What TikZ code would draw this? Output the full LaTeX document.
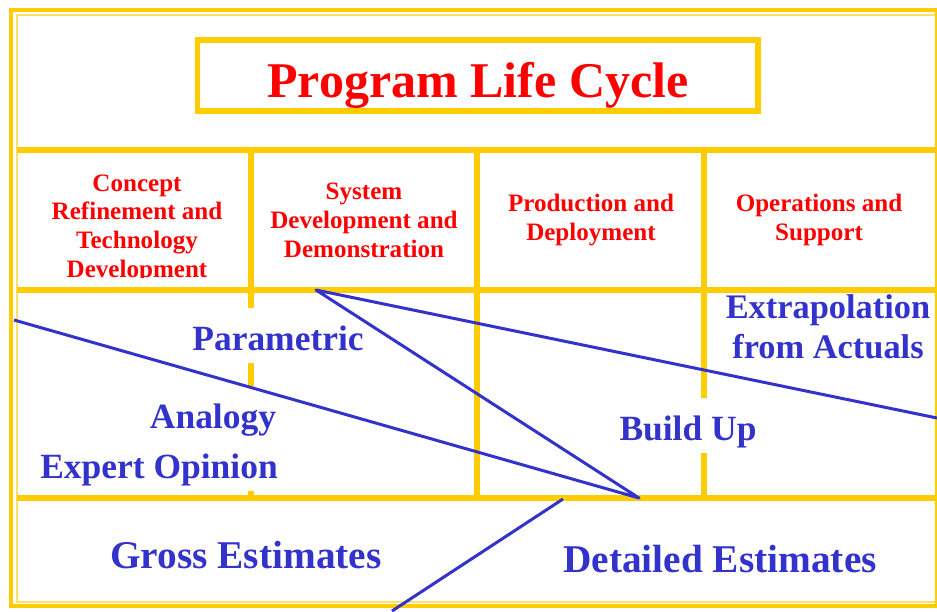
\documentclass[tikz,border=0pt]{standalone}
\usepackage{fontspec}
\setmainfont{Liberation Serif}

\tikzset{every picture/.style={line width=0.75pt}}
\tikzset{
  frame/.style={color={rgb, 255:red, 255; green, 204; blue, 0 }, line width=3pt},
  gridline/.style={color={rgb, 255:red, 255; green, 204; blue, 0 }, line width=4.5pt},
  titlebox/.style={color={rgb, 255:red, 255; green, 204; blue, 0 }, line width=4.2pt},
  title/.style={color={rgb, 255:red, 255; green, 0; blue, 0 }, font=\bfseries\fontsize{37.5}{42}\selectfont, inner sep=0.75pt},
  phase/.style={color={rgb, 255:red, 255; green, 0; blue, 0 }, font=\bfseries\fontsize{18.8}{21.4}\selectfont, align=center, inner sep=0.75pt},
  estimate/.style={color={rgb, 255:red, 51; green, 51; blue, 204 }, font=\bfseries\fontsize{26.6}{29.3}\selectfont, fill=white, text height=24pt, text depth=2.25pt, inner xsep=1.5pt, inner ysep=7.5pt},
  total/.style={color={rgb, 255:red, 51; green, 51; blue, 204 }, font=\bfseries\fontsize{29.5}{33}\selectfont, inner sep=0.75pt},
  trend/.style={color={rgb, 255:red, 51; green, 51; blue, 204 }, line width=2.25pt, line join=round}
}

\begin{document}
\begin{tikzpicture}[x=0.75pt,y=0.75pt,yscale=-1,xscale=1]
\useasboundingbox (0,0) rectangle (937,611);

%Shape: Rectangle [id:frame]
\draw [frame] (11,10) rectangle (937,606);
\draw [frame, line width=1.1pt, opacity=0.6] (17,15) rectangle (937,602);

%Straight Lines [id:rows]
\draw [gridline] (17,150) -- (937,150);
\draw [gridline] (17,290) -- (937,290);
\draw [gridline] (17,498) -- (937,498);
%Straight Lines [id:columns]
\draw [gridline] (251,150) -- (251,498);
\draw [gridline] (477,150) -- (477,498);
\draw [gridline] (704,150) -- (704,498);

%Shape: Rectangle [id:titlebox]
\draw [titlebox] (197.5,40) rectangle (758,111);

% Text Node
\draw (478,97) node [anchor=base][title] (title) {Program Life Cycle};

% Text Node
\draw (137,277) node [anchor=base][phase] (concept) {Concept\\Refinement and\\Technology\\Development};
%Shape: Rectangle [id:cut]
\fill [white] (20,278) rectangle (248,287);
% Text Node
\draw (364,257) node [anchor=base][phase] (sdd) {System\\Development and\\Demonstration};
% Text Node
\draw (591,240) node [anchor=base][phase] (prod) {Production and\\Deployment};
% Text Node
\draw (819,240) node [anchor=base][phase] (ops) {Operations and\\Support};

% Text Node
\draw (278,350) node [anchor=base][estimate] (param) {Parametric};
% Text Node
\draw (213,428) node [anchor=base][estimate] (analogy) {Analogy};
% Text Node
\draw (159,478) node [anchor=base][estimate] (expert) {Expert Opinion};
% Text Node
\draw (688,440) node [anchor=base][estimate] (buildup) {Build Up};
% Text Node
\draw (828,358) node [anchor=base][estimate, fill=none, align=center, text height=, text depth=, inner sep=0.75pt, font=\bfseries\fontsize{25.8}{29.3}\selectfont] (extrap) {Extrapolation\\from Actuals};
% Text Node
\draw (246,568) node [anchor=base][total] (gross) {Gross Estimates};
% Text Node
\draw (720,572) node [anchor=base][total] (detail) {Detailed Estimates};

%Straight Lines [id:trends]
\coordinate (lft) at (14,320);
\coordinate (apex) at (316,290);
\coordinate (tip) at (639,498);
\coordinate (rgt) at (937,418);
\coordinate (dtop) at (563,499);
\coordinate (dbot) at (392,611);
\draw [trend] (lft) -- (tip) -- (apex) -- (rgt);
\draw [trend] (dtop) -- (dbot);

\end{tikzpicture}
\end{document}
